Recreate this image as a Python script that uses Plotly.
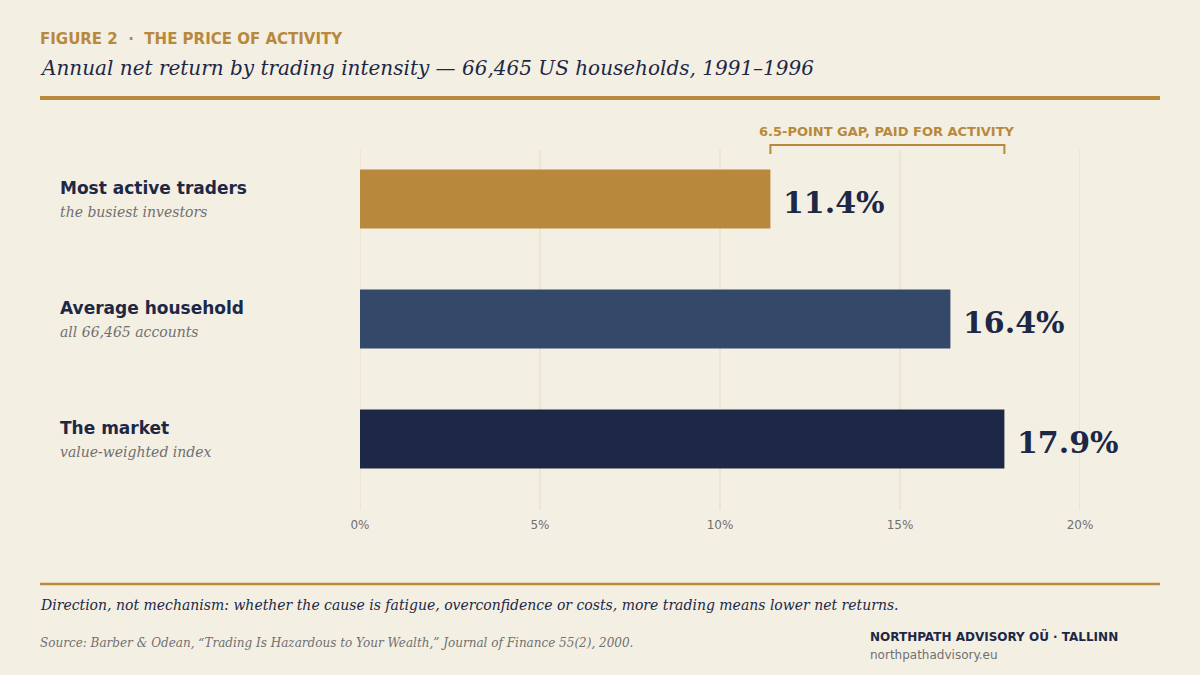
import plotly.graph_objects as go

categories = ["Most active traders", "Average household", "The market"]
subtitles = ["the busiest investors", "all 66,465 accounts", "value-weighted index"]
returns = [11.4, 16.4, 17.9]
bar_colors = ["#B8893C", "#34486A", "#1C2846"]
tick_vals = [0, 5, 10, 15, 20]
tick_text = ["0%", "5%", "10%", "15%", "20%"]

BG = "#F4EFE3"
GOLD = "#B8893C"
NAVY = "#1C2846"
GRAY = "#707070"
GRID = "#E6DAC3"

W, H = 1200, 675
ML, MR, MT, MB = 360, 120, 139, 176
PW = W - ML - MR
PH = H - MT - MB

def px(x):
    return (x - ML) / PW

def py(y):
    return 1 - (y - MT) / PH

fig = go.Figure()
fig.add_trace(go.Bar(
    y=categories, x=returns, orientation="h",
    marker=dict(color=bar_colors, line=dict(width=0)),
    hoverinfo="skip",
))

shapes = []
for t in tick_vals:
    shapes.append(dict(type="line", xref="x", yref="paper", x0=t, x1=t,
                       y0=py(510), y1=py(150), line=dict(color=GRID, width=1), layer="below"))
shapes.append(dict(type="line", xref="paper", yref="paper", x0=px(40), x1=px(1160),
                   y0=py(98), y1=py(98), line=dict(color=GOLD, width=4)))
shapes.append(dict(type="line", xref="paper", yref="paper", x0=px(40), x1=px(1160),
                   y0=py(584), y1=py(584), line=dict(color=GOLD, width=2.5)))
lo, hi = min(returns), max(returns)
shapes.append(dict(type="path", xref="x", yref="paper",
                   path=f"M {lo},{py(154)} L {lo},{py(145)} L {hi},{py(145)} L {hi},{py(154)}",
                   line=dict(color=GOLD, width=2)))

annotations = []
def ann(text, x, y, size, color, family="DejaVu Sans", weight="normal", style="normal",
        xanchor="left"):
    if xanchor == "left":
        x = x - 2
    annotations.append(dict(text=text, xref="paper", yref="paper", x=px(x), y=py(y),
                            xanchor=xanchor, yanchor="middle", showarrow=False,
                            font=dict(family=family, size=size, color=color,
                                      weight=weight, style=style)))

ann("FIGURE 2  ·  THE PRICE OF ACTIVITY", 40, 39, 15, GOLD, weight="bold")
ann("Annual net return by trading intensity — 66,465 US households, 1991–1996", 40, 68, 20,
    NAVY, family="DejaVu Serif", style="italic")
ann(f"{hi - lo:.1f}-POINT GAP, PAID FOR ACTIVITY", 887, 131, 13, GOLD, weight="bold",
    xanchor="center")

for i, (c, s) in enumerate(zip(categories, subtitles)):
    yc = 199 + 120 * i
    ann(c, 60, yc - 11, 17, NAVY, weight="bold")
    ann(s, 60, yc + 13, 14, GRAY, family="DejaVu Serif", style="italic")

for c, v in zip(categories, returns):
    annotations.append(dict(text=f"{v:.1f}%", xref="x", yref="y", x=v, y=c,
                            xanchor="left", yanchor="middle", showarrow=False,
                            xshift=11, yshift=-3,
                            font=dict(family="DejaVu Serif", size=30, color=NAVY,
                                      weight="bold")))

ann("Direction, not mechanism: whether the cause is fatigue, overconfidence or costs, more trading means lower net returns.",
    40, 605, 14, NAVY, family="DejaVu Serif", style="italic")
ann("Source: Barber &amp; Odean, “Trading Is Hazardous to Your Wealth,” Journal of Finance 55(2), 2000.",
    40, 643, 12, GRAY, family="DejaVu Serif", style="italic")
ann("NORTHPATH ADVISORY OÜ · TALLINN", 870, 636, 12, NAVY, weight="bold")
ann("northpathadvisory.eu", 870, 655, 12, GRAY)

fig.update_layout(
    width=W, height=H,
    margin=dict(l=ML, r=MR, t=MT, b=MB, pad=0),
    paper_bgcolor=BG, plot_bgcolor=BG,
    showlegend=False,
    bargap=0.51,
    shapes=shapes,
    annotations=annotations,
    xaxis=dict(range=[0, 20], tickvals=tick_vals, ticktext=tick_text,
               showgrid=False, zeroline=False, showline=False,
               ticks="outside", ticklen=0, tickcolor=GRID,
               tickfont=dict(family="DejaVu Sans", size=12, color=GRAY),
               fixedrange=True),
    yaxis=dict(autorange="reversed", showticklabels=False, showgrid=False,
               zeroline=False, showline=False, ticks="", fixedrange=True),
)
fig.update_xaxes(ticklabelstandoff=15)

fig.write_html("out.html")
